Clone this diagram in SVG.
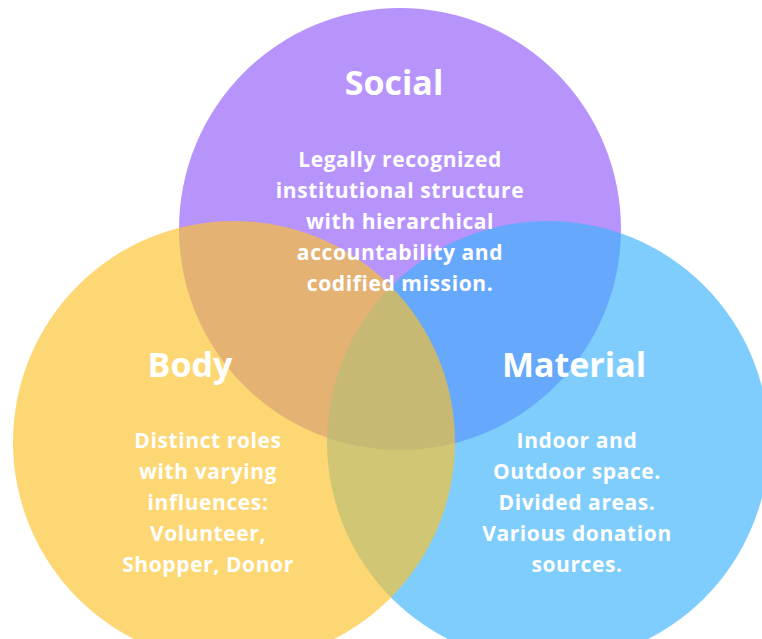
<svg xmlns="http://www.w3.org/2000/svg" width="762" height="639" viewBox="0 0 762 639">
  <style>
    .ring { fill-opacity: 0.65; }
    .title { font-family: "Open Sans", "Noto Sans", "Liberation Sans", sans-serif; font-weight: 700; font-size: 34px; fill: #ffffff; text-anchor: middle; }
    .body { font-family: "Open Sans", "Noto Sans", "Liberation Sans", sans-serif; font-weight: 700; font-size: 21px; letter-spacing: 0.6px; fill: #ffffff; text-anchor: middle; }
  </style>
  <rect width="762" height="639" fill="#ffffff"/>

  <!-- overlapping sets; translucent fills blend where they meet -->
  <g id="social-circle"><circle class="ring" cx="400" cy="229" r="221" fill="#915bfb"/></g>
  <g id="material-circle"><circle class="ring" cx="548" cy="442" r="221" fill="#3ab2fc"/></g>
  <g id="body-circle"><circle class="ring" cx="234" cy="442" r="221" fill="#fcc22a"/></g>

  <g id="social">
    <text class="title" x="394" y="95">Social</text>
    <text class="body" x="400" y="167">Legally recognized</text>
    <text class="body" x="400" y="198">institutional structure</text>
    <text class="body" x="400" y="229">with hierarchical</text>
    <text class="body" x="400" y="260">accountability and</text>
    <text class="body" x="400" y="291">codified mission.</text>
  </g>

  <g id="body">
    <text class="title" x="190" y="377">Body</text>
    <text class="body" x="208" y="448">Distinct roles</text>
    <text class="body" x="208" y="479">with varying</text>
    <text class="body" x="208" y="510">influences:</text>
    <text class="body" x="208" y="541">Volunteer,</text>
    <text class="body" x="208" y="572">Shopper, Donor</text>
  </g>

  <g id="material">
    <text class="title" x="574" y="377">Material</text>
    <text class="body" x="577" y="448">Indoor and</text>
    <text class="body" x="577" y="479">Outdoor space.</text>
    <text class="body" x="577" y="510">Divided areas.</text>
    <text class="body" x="577" y="541">Various donation</text>
    <text class="body" x="577" y="572">sources.</text>
  </g>

  <g id="connectors"/>
</svg>
